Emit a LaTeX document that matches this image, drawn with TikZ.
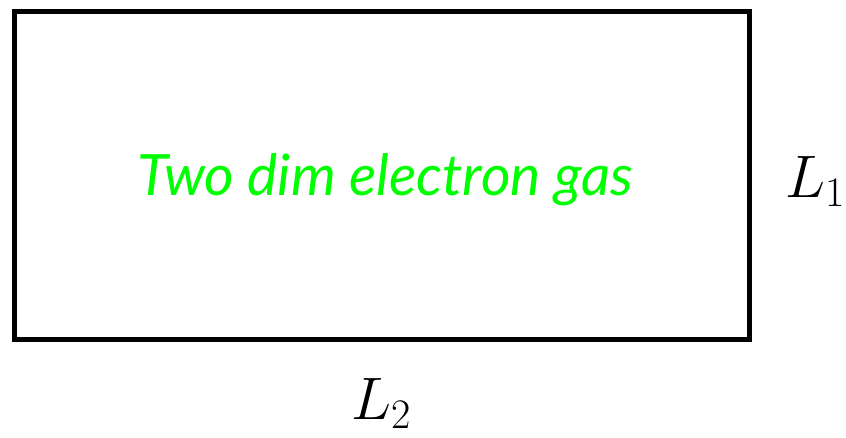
\RequirePackage{fix-cm}
\documentclass[tikz,border=0pt]{standalone}
\usepackage{fontspec}
\newfontfamily\labelfont{Lato}
\begin{document}
\begin{tikzpicture}[x=1pt,y=-1pt,
  gasbox/.style={draw=black,line width=5pt},
  gaslabel/.style={text=green,font=\labelfont\itshape\fontsize{57}{68}\selectfont},
  dimlabel/.style={font=\fontsize{60}{70}\selectfont}]
\useasboundingbox (0,0) rectangle (846,438);
\node[gasbox,minimum width=735pt,minimum height=327pt,inner sep=0pt] (box) at (381.5,175.5) {};
\node[gaslabel] (gas) at (385,180) {Two dim electron gas};
\node[dimlabel] (l1) at (815,182) {$L_1$};
\node[dimlabel] (l2) at (381,403) {$L_2$};
\end{tikzpicture}
\end{document}
